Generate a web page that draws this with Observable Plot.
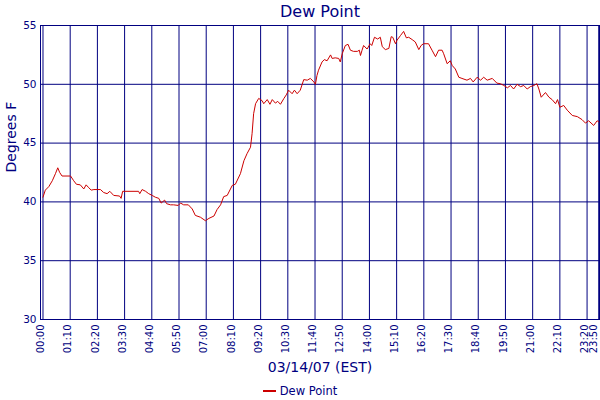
<!DOCTYPE html>
<html>
<head>
<meta charset="utf-8">
<script src="https://cdn.jsdelivr.net/npm/d3@7"></script>
<script src="https://cdn.jsdelivr.net/npm/@observablehq/plot@0.6"></script>
<style>
  html, body { margin: 0; padding: 0; background: #fff; overflow: hidden; }
  #chart { width: 600px; }
  .legend { width: 600px; height: 22px; padding-top: 3px; box-sizing: border-box; display: flex; justify-content: center; align-items: center;
            font-family: "DejaVu Sans", sans-serif; font-size: 11.5px; color: #000080; }
  .legend .sw { display: inline-block; width: 13px; height: 0; border-top: 2px solid #cc0000; margin-right: 4px; }
</style>
</head>
<body>
<div id="chart"></div>
<script>
const times = [
  "00:00","00:06","00:15","00:24","00:32","00:38","00:43","00:49","01:11","01:19",
  "01:26","01:36","01:45","01:51","01:58","02:04","02:11","02:28","02:36","02:45",
  "02:52","03:02","03:17","03:21","03:25","04:06","04:09","04:15","04:24","04:32",
  "04:41","04:49","04:58","05:04","05:13","05:18","05:28","05:36","05:48","05:54",
  "06:02","06:14","06:24","06:32","06:45","06:58","07:07","07:20","07:28","07:37",
  "07:45","07:54","08:07","08:15","08:28","08:37","08:45","08:54","08:58","09:02",
  "09:07","09:15","09:24","09:28","09:37","09:44","09:50","09:58","10:04","10:11",
  "10:20","10:26","10:32","10:41","10:47","10:54","11:02","11:11","11:20","11:28",
  "11:37","11:41","11:45","11:49","11:58","12:04","12:11","12:20","12:24","12:32",
  "12:41","12:45","12:50","12:58","13:05","13:11","13:19","13:29","13:34","13:37",
  "13:41","13:45","13:54","14:02","14:06","14:13","14:21","14:28","14:33","14:41",
  "14:50","14:56","15:00","15:07","15:11","15:20","15:28","15:35","15:41","15:50",
  "15:58","16:07","16:13","16:19","16:32","16:41","16:50","16:58","17:07","17:11",
  "17:20","17:28","17:33","17:41","17:50","17:58","18:11","18:20","18:27","18:37",
  "18:46","18:54","19:03","19:16","19:28","19:37","19:46","19:55","20:03","20:11",
  "20:20","20:29","20:37","20:46","20:54","21:03","21:11","21:16","21:22","21:33",
  "21:42","21:50","21:59","22:04","22:10","22:20","22:29","22:42","22:55","23:07",
  "23:16","23:24","23:37","23:46","23:50"
];
const dewPoint = [
  40.4, 41.0, 41.3, 41.8, 42.4, 42.9, 42.5, 42.2, 42.2, 41.8,
  41.5, 41.45, 41.1, 41.45, 41.2, 41.0, 41.05, 41.05, 40.8, 40.7,
  40.9, 40.55, 40.5, 40.3, 40.9, 40.9, 40.7, 41.05, 40.9, 40.7,
  40.55, 40.4, 40.3, 39.9, 40.15, 39.85, 39.75, 39.75, 39.7, 39.9,
  39.75, 39.75, 39.4, 38.85, 38.7, 38.4, 38.6, 38.8, 39.35, 39.75,
  40.45, 40.55, 41.4, 41.5, 42.4, 43.5, 44.1, 44.65, 45.8, 47.5,
  48.35, 48.8, 48.6, 48.35, 48.7, 48.3, 48.7, 48.4, 48.55, 48.3,
  48.8, 49.1, 49.5, 49.2, 49.5, 49.2, 49.5, 50.4, 50.35, 50.5,
  50.2, 50.0, 50.75, 51.2, 51.9, 52.1, 52.0, 52.5, 52.2, 52.25,
  52.2, 51.9, 52.6, 53.3, 53.4, 52.9, 52.8, 52.8, 52.9, 52.45,
  52.9, 53.3, 53.0, 53.45, 53.3, 54.0, 53.85, 54.0, 53.2, 52.95,
  53.05, 54.05, 54.0, 53.45, 53.75, 54.15, 54.5, 53.95, 54.0, 53.8,
  53.6, 52.95, 53.3, 53.45, 53.45, 52.9, 52.35, 52.9, 52.9, 52.6,
  51.75, 52.0, 51.6, 51.3, 50.6, 50.5, 50.35, 50.5, 50.2, 50.6,
  50.35, 50.6, 50.35, 50.5, 50.1, 50.05, 49.9, 49.7, 49.9, 49.6,
  50.0, 49.8, 49.9, 49.6, 49.8, 49.9, 50.05, 49.6, 48.9, 49.3,
  48.9, 48.7, 48.35, 48.7, 48.05, 48.2, 47.8, 47.35, 47.25, 47.0,
  46.7, 46.9, 46.5, 46.9, 46.8
];
const tickLabels = [
  "00:00","01:10","02:20","03:30","04:40","05:50","07:00","08:10","09:20","10:30","11:40",
  "12:50","14:00","15:10","16:20","17:30","18:40","19:50","21:00","22:10","23:20","23:50"
];
const yTicks = [30, 35, 40, 45, 50, 55];
const title = "Dew Point";
const yLabel = "Degrees F";
const xLabel = "03/14/07 (EST)";
const seriesName = "Dew Point";

const toMin = s => { const [h, m] = s.split(":").map(Number); return h * 60 + m; };
const data = times.map((t, i) => ({minute: toMin(t), value: dewPoint[i]}));
const tickMinutes = tickLabels.map(toMin);
const NAVY = "#000080";
const RED = "#cc0000";
const fmt = d => tickLabels[tickMinutes.indexOf(d)];

const chart = Plot.plot({
  width: 600,
  height: 378,
  marginTop: 25,
  marginBottom: 59,
  marginLeft: 40,
  marginRight: 1,
  style: {fontFamily: "DejaVu Sans, sans-serif", color: NAVY, background: "#fff", overflow: "visible"},
  x: {type: "linear", domain: [-6.4, 1432]},
  y: {domain: [30, 55]},
  marks: [
    Plot.gridX(tickMinutes, {stroke: NAVY, strokeOpacity: 1}),
    Plot.gridY(yTicks, {stroke: NAVY, strokeOpacity: 1}),
    Plot.frame({stroke: NAVY}),
    Plot.line(data, {x: "minute", y: "value", stroke: RED, strokeWidth: 1}),
    Plot.axisX(tickMinutes.slice(0, -1), {
      tickRotate: -90, tickSize: 0, tickPadding: 5, dx: -2, fontSize: 10, fill: NAVY, label: null, tickFormat: fmt
    }),
    Plot.axisX(tickMinutes.slice(-1), {
      tickRotate: -90, tickSize: 0, tickPadding: 5, dx: -4.5, fontSize: 10, fill: NAVY, label: null, tickFormat: fmt
    }),
    Plot.axisY(yTicks, {tickSize: 0, tickPadding: 4, fontSize: 10.5, fill: NAVY, label: null}),
    Plot.text([title], {frameAnchor: "top", dy: -9, lineAnchor: "bottom", fontSize: 16, fill: NAVY}),
    Plot.text([yLabel], {frameAnchor: "left", dx: -25, rotate: -90, lineAnchor: "bottom", fontSize: 14, fill: NAVY}),
    Plot.text([xLabel], {frameAnchor: "bottom", dy: 52, lineAnchor: "bottom", fontSize: 14, fill: NAVY})
  ]
});
document.getElementById("chart").appendChild(chart);

const legend = document.createElement("div");
legend.className = "legend";
legend.innerHTML = `<span class="sw"></span><span>${seriesName}</span>`;
document.getElementById("chart").appendChild(legend);
</script>
</body>
</html>
